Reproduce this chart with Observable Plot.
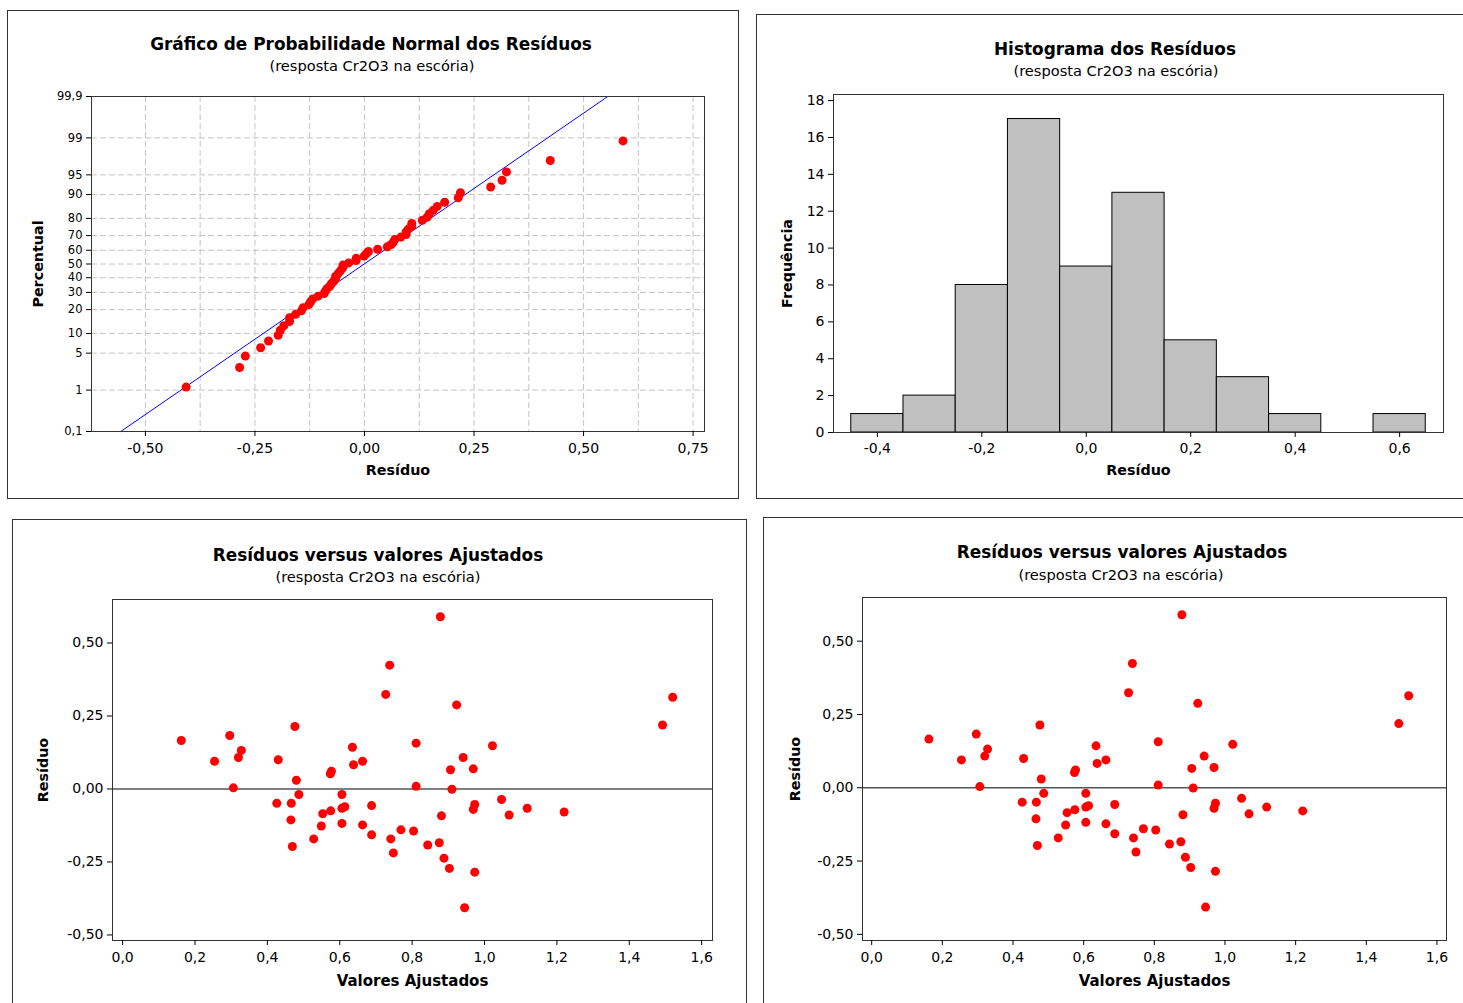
<!DOCTYPE html>
<html>
<head>
<meta charset="utf-8">
<script src="https://cdn.jsdelivr.net/npm/d3@7"></script>
<script src="https://cdn.jsdelivr.net/npm/@observablehq/plot@0.6"></script>
<style>
  html, body { margin: 0; padding: 0; background: #fff; }
  #root { position: relative; width: 1463px; height: 1003px; overflow: hidden; background: #fff; font-family: "DejaVu Sans", sans-serif; color: #000; }
  .panel { position: absolute; border: 1px solid #333; box-sizing: border-box; }
  .title { position: absolute; width: 700px; text-align: center; font-weight: bold; font-size: 16.9px; line-height: 1; white-space: nowrap; }
  .sub { position: absolute; width: 700px; text-align: center; font-size: 14.6px; line-height: 1; white-space: nowrap; }
  .chart { position: absolute; }
</style>
</head>
<body>
<div id="root"></div>
<script>
// ---------- DATA ----------
const fittedValues = [0.162,0.296,0.254,0.328,0.320,0.306,0.476,0.430,0.480,0.487,0.426,0.466,0.465,0.469,0.528,0.549,0.553,0.575,0.574,0.577,0.606,0.606,0.614,0.606,0.635,0.638,0.663,0.663,0.688,0.688,0.738,0.727,0.741,0.748,0.769,0.804,0.811,0.811,0.843,0.878,0.923,0.875,0.881,0.888,0.903,0.910,0.906,0.941,0.945,0.969,0.973,0.969,0.973,1.022,1.047,1.068,1.118,1.220,1.492,1.520];
const residuals = [0.166,0.183,0.095,0.132,0.108,0.004,0.214,0.100,0.030,-0.019,-0.049,-0.049,-0.106,-0.197,-0.171,-0.127,-0.085,-0.075,0.052,0.061,-0.019,-0.066,-0.061,-0.118,0.143,0.083,0.095,-0.123,-0.057,-0.157,0.424,0.324,-0.171,-0.219,-0.140,-0.144,0.157,0.009,-0.192,0.590,0.288,-0.184,-0.092,-0.237,-0.272,-0.001,0.066,0.108,-0.407,0.069,-0.053,-0.070,-0.285,0.148,-0.036,-0.089,-0.066,-0.079,0.219,0.314];

const histBinCenters = [-0.4,-0.3,-0.2,-0.1,0.0,0.1,0.2,0.3,0.4,0.5,0.6];
const histCounts = [1,2,8,17,9,13,5,3,1,0,1];

const probTickPercents = [0.1,1,5,10,20,30,40,50,60,70,80,90,95,99,99.9];
const probTickLabels = ["0,1","1","5","10","20","30","40","50","60","70","80","90","95","99","99,9"];
const probXTicks = [-0.5,-0.25,0,0.25,0.5,0.75];
const probXGrid = [-0.5,-0.375,-0.25,-0.125,0,0.125,0.25,0.375,0.5,0.625,0.75];

const histXTicks = [-0.4,-0.2,0,0.2,0.4,0.6];
const histYTicks = [0,2,4,6,8,10,12,14,16,18];

const fitXTicks = [0,0.2,0.4,0.6,0.8,1.0,1.2,1.4,1.6];
const fitYTicks = [-0.5,-0.25,0,0.25,0.5];

const titles = {
  prob: "Gráfico de Probabilidade Normal dos Resíduos",
  hist: "Histograma dos Resíduos",
  fit: "Resíduos versus valores Ajustados",
  sub: "(resposta Cr2O3 na escória)"
};

// ---------- helpers ----------
function qnorm(p) {
  const a = [-3.969683028665376e+01, 2.209460984245205e+02, -2.759285104469687e+02, 1.383577518672690e+02, -3.066479806614716e+01, 2.506628277459239e+00];
  const b = [-5.447609879822406e+01, 1.615858368580409e+02, -1.556989798598866e+02, 6.680131188771972e+01, -1.328068155288572e+01];
  const c = [-7.784894002430293e-03, -3.223964580411365e-01, -2.400758277161838e+00, -2.549732539343734e+00, 4.374664141464968e+00, 2.938163982698783e+00];
  const d = [7.784695709041462e-03, 3.224671290700398e-01, 2.445134137142996e+00, 3.754408661907416e+00];
  const pl = 0.02425, ph = 1 - pl;
  let q, r;
  if (p < pl) { q = Math.sqrt(-2*Math.log(p)); return (((((c[0]*q+c[1])*q+c[2])*q+c[3])*q+c[4])*q+c[5]) / ((((d[0]*q+d[1])*q+d[2])*q+d[3])*q+1); }
  if (p > ph) { q = Math.sqrt(-2*Math.log(1-p)); return -(((((c[0]*q+c[1])*q+c[2])*q+c[3])*q+c[4])*q+c[5]) / ((((d[0]*q+d[1])*q+d[2])*q+d[3])*q+1); }
  q = p - 0.5; r = q*q;
  return (((((a[0]*r+a[1])*r+a[2])*r+a[3])*r+a[4])*r+a[5])*q / (((((b[0]*r+b[1])*r+b[2])*r+b[3])*r+b[4])*r+1);
}
const comma = (v, k) => v.toFixed(k).replace(".", ",");

const root = document.getElementById("root");
function addDiv(cls, css, text) {
  const el = document.createElement("div");
  el.className = cls;
  Object.assign(el.style, css);
  if (text != null) el.textContent = text;
  root.appendChild(el);
  return el;
}
function place(svg, left, top) {
  const w = document.createElement("div");
  w.className = "chart";
  w.style.left = left + "px";
  w.style.top = top + "px";
  w.appendChild(svg);
  root.appendChild(w);
}
const baseStyle = {fontFamily: "DejaVu Sans, sans-serif", fontSize: "13px", background: "transparent", color: "#000", overflow: "visible"};

// ---------- panels & titles ----------
addDiv("panel", {left: "7px", top: "10px", width: "732px", height: "489px"});
addDiv("panel", {left: "756px", top: "14px", width: "720px", height: "485px"});
addDiv("panel", {left: "12px", top: "519px", width: "735px", height: "500px"});
addDiv("panel", {left: "763px", top: "517px", width: "720px", height: "500px"});

addDiv("title", {left: (371 - 350) + "px", top: (44 - 8) + "px"}, titles.prob);
addDiv("sub", {left: (372 - 350) + "px", top: (66 - 7) + "px"}, titles.sub);
addDiv("title", {left: (1115 - 350) + "px", top: (49 - 8) + "px"}, titles.hist);
addDiv("sub", {left: (1116 - 350) + "px", top: (71 - 7) + "px"}, titles.sub);
addDiv("title", {left: (378 - 350) + "px", top: (555 - 8) + "px"}, titles.fit);
addDiv("sub", {left: (378 - 350) + "px", top: (577 - 7) + "px"}, titles.sub);
addDiv("title", {left: (1122 - 350) + "px", top: (552 - 8) + "px"}, titles.fit);
addDiv("sub", {left: (1121 - 350) + "px", top: (575 - 7) + "px"}, titles.sub);

// ---------- 1. Normal probability plot ----------
{
  const n = residuals.length;
  const sorted = residuals.slice().sort((a, b) => a - b);
  const probData = sorted.map((r, i) => ({r, z: qnorm((i + 1 - 0.3) / (n + 0.4))}));
  const zTicks = probTickPercents.map(p => qnorm(p / 100));
  const zLabel = new Map(zTicks.map((z, i) => [z, probTickLabels[i]]));
  const zMin = zTicks[0], zMax = zTicks[zTicks.length - 1];
  const mu = d3.mean(residuals), sd = d3.deviation(residuals);
  const fitLine = [{x: mu + sd * zMin, z: zMin}, {x: mu + sd * zMax, z: zMax}];

  const svg = Plot.plot({
    width: 703, height: 400,
    marginLeft: 70, marginRight: 20, marginTop: 10, marginBottom: 55,
    style: baseStyle,
    x: {domain: [-0.623, 0.776]},
    y: {domain: [zMin, zMax]},
    marks: [
      Plot.ruleX(probXGrid, {stroke: "#c4c4c4", strokeDasharray: "6,3"}),
      Plot.ruleY(zTicks.slice(1, -1), {stroke: "#c4c4c4", strokeDasharray: "6,3"}),
      Plot.line(fitLine, {x: "x", y: "z", stroke: "#0000ff", strokeWidth: 1}),
      Plot.dot(probData, {x: "r", y: "z", r: 4.5, fill: "#ff0000", stroke: "none"}),
      Plot.frame({stroke: "#333"}),
      Plot.axisX({ticks: probXTicks, tickFormat: d => comma(d, 2), tickSize: 5, tickPadding: 7, fontSize: 14, label: null}),
      Plot.axisY({ticks: zTicks, tickFormat: z => zLabel.get(z), tickSize: 5, fontSize: 11.5, label: null}),
      Plot.text(["Resíduo"], {frameAnchor: "bottom", dy: 43, fontWeight: "bold", fontSize: 14.3}),
      Plot.text(["Percentual"], {frameAnchor: "left", textAnchor: "middle", dx: -53, rotate: -90, fontWeight: "bold", fontSize: 14.3})
    ]
  });
  place(svg, 21, 86);
}

// ---------- 2. Histogram ----------
{
  const bins = histBinCenters.map((c, i) => ({c, n: histCounts[i]}));
  const w = histBinCenters[1] - histBinCenters[0];
  const svg = Plot.plot({
    width: 685, height: 403,
    marginLeft: 55, marginRight: 20, marginTop: 10, marginBottom: 55,
    style: baseStyle,
    x: {domain: [-0.484, 0.684]},
    y: {domain: [0, 18.33]},
    marks: [
      Plot.rectY(bins, {x1: d => d.c - w / 2, x2: d => d.c + w / 2, y: "n", fill: "#c0c0c0", stroke: "#000", strokeWidth: 1}),
      Plot.frame({stroke: "#333"}),
      Plot.axisX({ticks: histXTicks, tickFormat: d => comma(d, 1), tickSize: 5, tickPadding: 6, fontSize: 14, label: null}),
      Plot.axisY({ticks: histYTicks, tickFormat: d => String(d), tickSize: 5, fontSize: 14, label: null}),
      Plot.text(["Resíduo"], {frameAnchor: "bottom", dy: 42, fontWeight: "bold", fontSize: 14.3}),
      Plot.text(["Frequência"], {frameAnchor: "left", textAnchor: "middle", dx: -46, rotate: -90, fontWeight: "bold", fontSize: 14.3})
    ]
  });
  place(svg, 778, 84);
}

// ---------- 3 & 4. Residuals vs fitted ----------
function fitPlot(cfg) {
  const pts = fittedValues.map((f, i) => ({f, r: residuals[i]}));
  return Plot.plot({
    width: cfg.width, height: cfg.height,
    marginLeft: cfg.ml, marginRight: cfg.mr, marginTop: 10, marginBottom: 55,
    style: baseStyle,
    x: {domain: cfg.xd},
    y: {domain: cfg.yd},
    marks: [
      Plot.ruleY([0], {stroke: "#555", strokeWidth: 1.3}),
      Plot.dot(pts, {x: "f", y: "r", r: 4.5, fill: "#ff0000", stroke: "none"}),
      Plot.frame({stroke: "#333"}),
      Plot.axisX({ticks: fitXTicks, tickFormat: d => comma(d, 1), tickSize: 5, tickPadding: 7, fontSize: 14, label: null}),
      Plot.axisY({ticks: fitYTicks, tickFormat: d => comma(d, 2), tickSize: 5, fontSize: 14, label: null}),
      Plot.text(["Valores Ajustados"], {frameAnchor: "bottom", dy: 45, fontWeight: "bold", fontSize: 15}),
      Plot.text(["Resíduo"], {frameAnchor: "left", textAnchor: "middle", dx: cfg.ylabDx, rotate: -90, fontWeight: "bold", fontSize: 14.3})
    ]
  });
}
place(fitPlot({width: 700, height: 406, ml: 80, mr: 20, xd: [-0.028, 1.630], yd: [-0.519, 0.649], ylabDx: -69}), 32, 589);
place(fitPlot({width: 679, height: 408, ml: 80, mr: 15, xd: [-0.026, 1.627], yd: [-0.521, 0.649], ylabDx: -67}), 782, 587);
</script>
</body>
</html>
